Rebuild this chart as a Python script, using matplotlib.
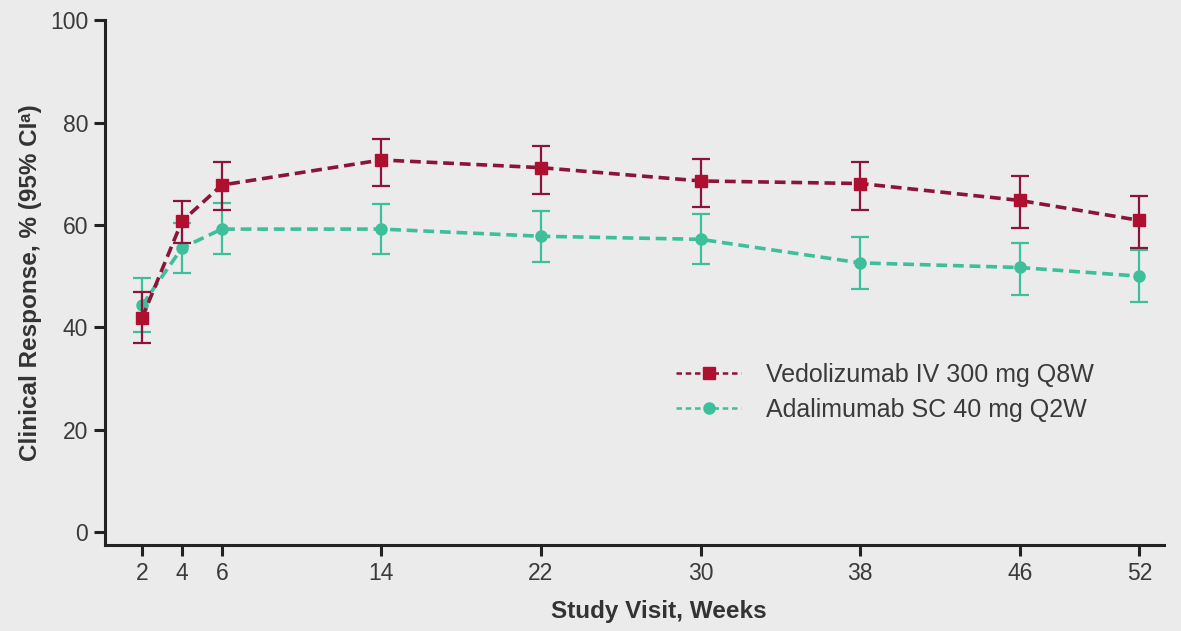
import matplotlib
matplotlib.use("Agg")
import matplotlib.pyplot as plt
from matplotlib.lines import Line2D
import numpy as np

plt.rcParams['font.family'] = ['Liberation Sans', 'DejaVu Sans']

weeks = [2, 4, 6, 14, 22, 30, 38, 46, 52]
vedo = [41.8, 60.7, 67.8, 72.7, 71.2, 68.6, 68.1, 64.8, 60.9]
vedo_lo = [37.0, 56.5, 62.9, 67.6, 66.1, 63.5, 63.0, 59.4, 55.5]
vedo_hi = [47.0, 64.6, 72.3, 76.8, 75.4, 72.9, 72.3, 69.6, 65.7]
adal = [44.3, 55.5, 59.2, 59.2, 57.8, 57.2, 52.6, 51.7, 50.0]
adal_lo = [39.1, 50.6, 54.3, 54.3, 52.7, 52.3, 47.5, 46.3, 44.9]
adal_hi = [49.6, 60.4, 64.3, 64.1, 62.8, 62.1, 57.7, 56.4, 55.2]
yticks = [0, 20, 40, 60, 80, 100]
labels = ["Vedolizumab IV 300 mg Q8W", "Adalimumab SC 40 mg Q2W"]

bg = "#EBEBEB"
red_line = "#8A1538"
red_marker = "#B0102F"
teal = "#3DBF9B"

fig = plt.figure(figsize=(11.81, 6.31), dpi=100, facecolor=bg)
ax = fig.add_axes([0.0889, 0.1363, 0.897, 0.8317])
ax.set_facecolor(bg)

def err(v, lo, hi):
    v = np.array(v); return [v - np.array(lo), np.array(hi) - v]

dash = (3.0, 1.6)
lw = 2.6
ax.errorbar(weeks, adal, yerr=err(adal, adal_lo, adal_hi), color=teal, ecolor=teal,
            elinewidth=1.6, capsize=6.5, capthick=1.6, marker="o", markersize=8,
            mfc=teal, mec=teal, lw=lw, dashes=dash, zorder=3)
ax.errorbar(weeks, vedo, yerr=err(vedo, vedo_lo, vedo_hi), color=red_line, ecolor=red_line,
            elinewidth=1.6, capsize=6.5, capthick=1.6, marker="s", markersize=9,
            mfc=red_marker, mec=red_marker, lw=lw, dashes=dash, zorder=4)

ax.set_xlim(0.146, 53.25)
ax.set_ylim(-2.5, 100)
ax.set_xticks(weeks)
ax.set_yticks(yticks)
ax.spines["top"].set_visible(False)
ax.spines["right"].set_visible(False)
for s in ["left", "bottom"]:
    ax.spines[s].set_linewidth(2.2)
    ax.spines[s].set_color("#222222")
ax.tick_params(axis="both", direction="out", length=8, width=2.2, color="#222222",
               labelsize=16.5, labelcolor="#3a3a3a", pad=4)
ax.set_xlabel("Study Visit, Weeks", fontsize=17.5, fontweight="bold", color="#333333")
ax.xaxis.set_label_coords(0.523, -0.104)
ax.set_ylabel("Clinical Response, % (95% CI\u1d43)", fontsize=17.5, fontweight="bold",
              color="#333333", labelpad=6)

handles = [
    Line2D([], [], color=red_line, lw=1.8, dashes=(2.2, 1.5), marker="s", markersize=9,
           mfc=red_marker, mec=red_marker),
    Line2D([], [], color=teal, lw=1.8, dashes=(2.2, 1.5), marker="o", markersize=8,
           mfc=teal, mec=teal),
]
ax.legend(handles, labels, loc="upper left", bbox_to_anchor=(0.518, 0.39), frameon=False,
          fontsize=18, handlelength=2.6, handletextpad=1.0, labelspacing=0.45,
          labelcolor="#3a3a3a")
fig.savefig("out.png", dpi=100, facecolor=bg)
